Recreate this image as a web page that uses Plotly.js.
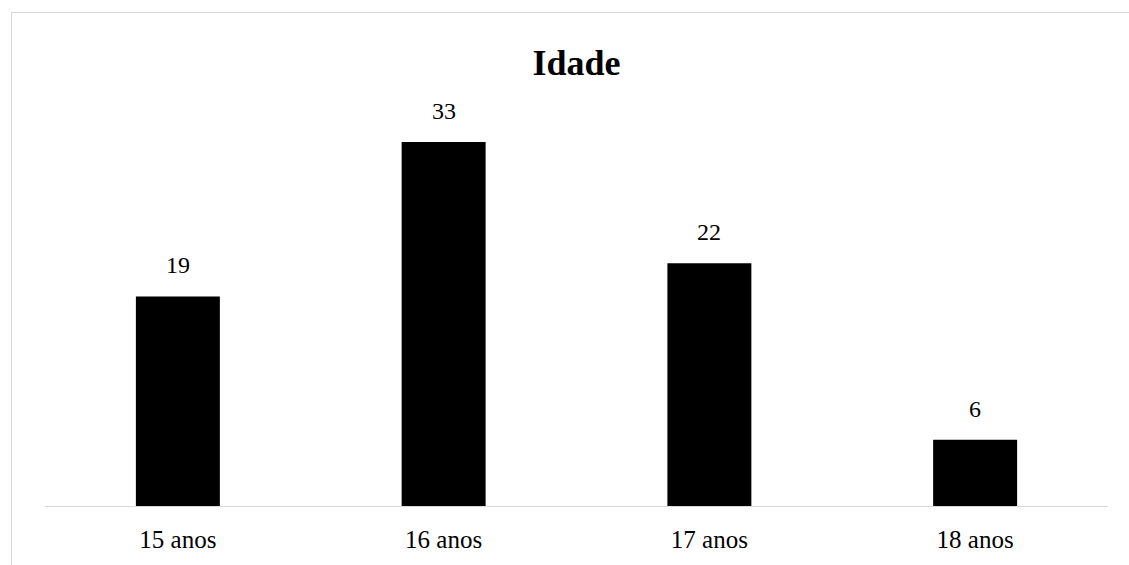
<!DOCTYPE html>
<html>
<head>
<meta charset="utf-8">
<script src="https://cdn.plot.ly/plotly-3.0.1.min.js"></script>
<style>
html,body{margin:0;padding:0;background:#fff;overflow:hidden;}
#wrap{position:relative;width:1129px;height:565px;}
#chart{position:absolute;left:0;top:0;width:1129px;height:565px;}
#frame{position:absolute;left:11px;top:12px;width:1200px;height:700px;border-left:1px solid #d9d9d9;border-top:1px solid #d9d9d9;pointer-events:none;}
</style>
</head>
<body>
<div id="wrap"><div id="chart"></div><div id="frame"></div></div>
<script>
const categories = ['15 anos', '16 anos', '17 anos', '18 anos'];
const values = [19, 33, 22, 6];
const chartTitle = 'Idade';

const font = 'Liberation Serif, Times New Roman, serif';

const trace = {
  type: 'bar',
  x: categories,
  y: values,
  marker: {color: '#000000', line: {width: 0}},
  hoverinfo: 'none'
};

const annotations = categories.map((c, i) => ({
  x: c, y: values[i], xref: 'x', yref: 'y',
  text: String(values[i]), showarrow: false,
  yanchor: 'middle', yshift: 31,
  font: {family: font, size: 24, color: '#000000'}
}));

const layout = {
  width: 1129, height: 565,
  margin: {l: 45, r: 21, t: 120, b: 59, pad: 0},
  paper_bgcolor: 'rgba(0,0,0,0)',
  plot_bgcolor: 'rgba(0,0,0,0)',
  bargap: 0.684,
  showlegend: false,
  title: {
    text: '<b>' + chartTitle + '</b>',
    font: {family: font, size: 36, color: '#000000'},
    x: 0.5, xanchor: 'center', xref: 'paper',
    y: 1 - 62/565, yanchor: 'middle', yref: 'container'
  },
  xaxis: {
    type: 'category',
    showline: true, linecolor: '#d9d9d9', linewidth: 1,
    ticks: '', showgrid: false, zeroline: false,
    tickfont: {family: font, size: 25, color: '#000000'},
    ticklabelstandoff: 11
  },
  yaxis: {
    visible: false, range: [0, 35], showgrid: false, zeroline: false
  },
  annotations: annotations
};

Plotly.newPlot('chart', [trace], layout, {staticPlot: true, displayModeBar: false});
</script>
</body>
</html>
